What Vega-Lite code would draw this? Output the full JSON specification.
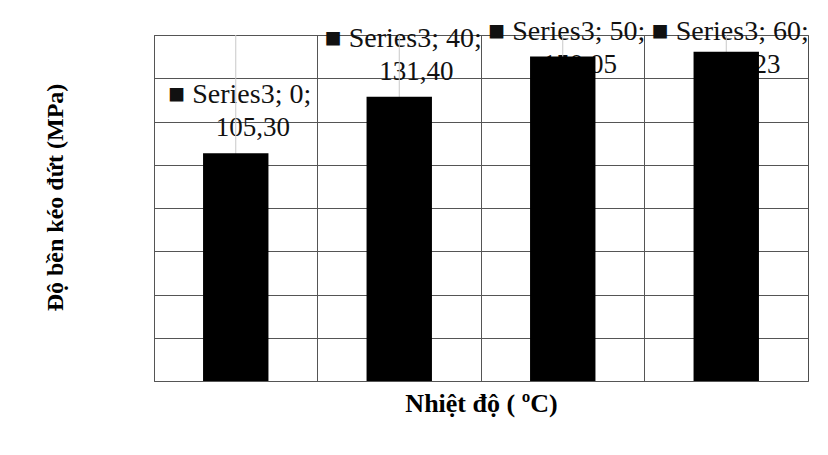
{
  "$schema": "https://vega.github.io/schema/vega-lite/v6.json",
  "width": 654,
  "height": 346,
  "autosize": {"type": "none"},
  "padding": {"left": 154, "top": 35, "right": 20, "bottom": 74},
  "background": "white",
  "config": {
    "view": {"stroke": "#4d4d4d", "strokeWidth": 1},
    "locale": {"number": {"decimal": ",", "thousands": ".", "grouping": [3], "currency": ["", ""]}},
    "font": "Liberation Serif"
  },
  "data": {
    "values": [
      {"temp": "0", "value": 105.30, "label": "■ Series3; 0;"},
      {"temp": "40", "value": 131.40, "label": "■ Series3; 40;"},
      {"temp": "50", "value": 150.05, "label": "■ Series3; 50;"},
      {"temp": "60", "value": 152.23, "label": "■ Series3; 60;"}
    ]
  },
  "encoding": {
    "x": {
      "field": "temp",
      "type": "ordinal",
      "sort": ["0", "40", "50", "60"],
      "scale": {"paddingInner": 0, "paddingOuter": 0},
      "axis": {
        "title": "Nhiệt độ ( ºC)",
        "labels": false,
        "ticks": false,
        "domain": false,
        "grid": true,
        "bandPosition": 0,
        "gridColor": "#555555",
        "gridWidth": 1,
        "titleFont": "Liberation Serif",
        "titleFontSize": 26,
        "titleFontWeight": "bold",
        "titleColor": "#000000",
        "titleY": 30,
        "titleBaseline": "alphabetic"
      }
    }
  },
  "layer": [
    {
      "mark": {"type": "text", "font": "Liberation Serif", "fontSize": 28, "dx": 4, "dy": -3, "baseline": "middle", "align": "center", "color": "#111111"},
      "encoding": {
        "y": {"field": "value", "type": "quantitative", "scale": {"domain": [-25.4, 134.6], "clamp": true, "nice": false, "zero": false}, "axis": null},
        "text": {"field": "label"}
      }
    },
    {
      "mark": {"type": "text", "font": "Liberation Serif", "fontSize": 27, "dx": 17, "dy": 30, "baseline": "middle", "align": "center", "color": "#111111"},
      "encoding": {
        "y": {"field": "value", "type": "quantitative", "scale": {"domain": [-25.4, 134.6], "clamp": true, "nice": false, "zero": false}, "axis": null},
        "text": {"field": "value", "type": "quantitative", "format": ".2f"}
      }
    },
    {
      "mark": {"type": "rule", "color": "#c8c8c8", "strokeWidth": 1},
      "encoding": {}
    },
    {
      "mark": {"type": "bar", "color": "#000000", "width": {"band": 0.4}},
      "encoding": {
        "y": {
          "field": "value",
          "type": "quantitative",
          "scale": {"domain": [0, 160], "nice": false},
          "axis": {
            "title": "Độ bền kéo đứt (MPa)",
            "values": [0, 20, 40, 60, 80, 100, 120, 140, 160],
            "labels": false,
            "ticks": false,
            "domain": false,
            "grid": true,
            "gridColor": "#555555",
            "gridWidth": 1,
            "minExtent": 0,
            "titleFont": "Liberation Serif",
            "titleFontSize": 24,
            "titleFontWeight": "bold",
            "titleColor": "#000000",
            "titleAngle": -90,
            "titleAlign": "center",
            "titleBaseline": "middle",
            "titleX": -99,
            "titleY": 162
          }
        }
      }
    }
  ],
  "resolve": {"scale": {"y": "independent"}}
}
